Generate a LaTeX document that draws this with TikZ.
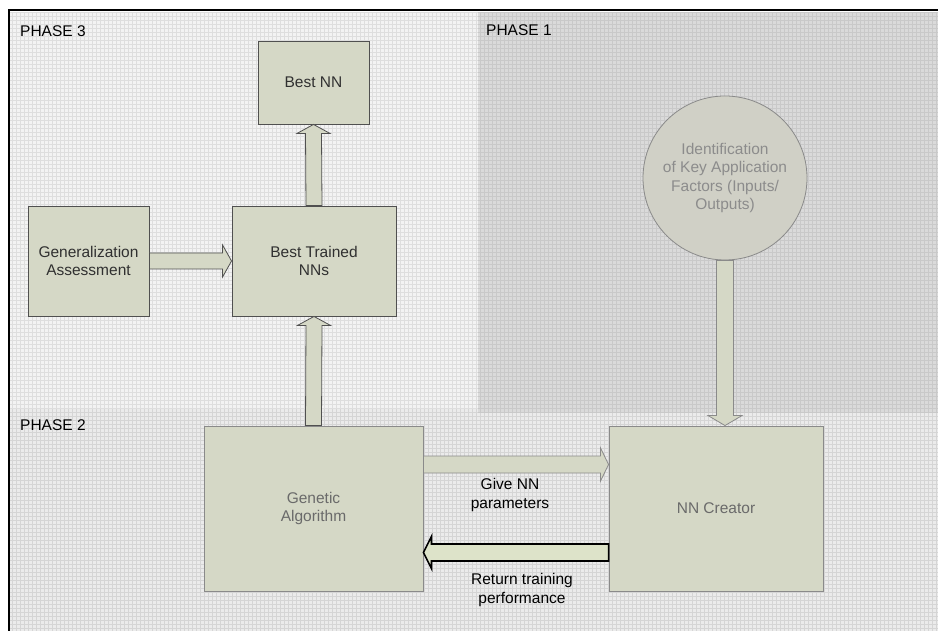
\documentclass[tikz,border=0pt]{standalone}
\usepackage{fontspec}
\setmainfont{Liberation Sans}
\usetikzlibrary{calc}
\definecolor{pthree}{HTML}{F3F3F3}
\definecolor{pthreeg}{HTML}{DEDEDE}
\definecolor{pone}{HTML}{DADADA}
\definecolor{poneg}{HTML}{C9C9C9}
\definecolor{ptwo}{HTML}{EBEBEB}
\definecolor{ptwog}{HTML}{D5D5D5}
\definecolor{boxfill}{HTML}{D5D8C6}
\definecolor{boxline}{HTML}{505050}
\definecolor{softline}{HTML}{8A8A8A}
\definecolor{circfill}{HTML}{D0D0C6}
\definecolor{retfill}{HTML}{DDE3C9}
\definecolor{txtdark}{HTML}{303030}
\definecolor{txtmid}{HTML}{6A6A6A}
\definecolor{txtlight}{HTML}{8C8C8C}
\begin{document}
\begin{tikzpicture}[x=1pt,y=-1pt,
  txt/.style={font=\fontsize{15.5}{18.4}\selectfont, align=center},
  box/.style={txt, draw=boxline, fill=boxfill, line width=0.9pt, inner sep=0pt, text=txtdark},
  softbox/.style={box, draw=softline, text=txtmid},
  barrow/.style={draw=boxline, fill=boxfill, line width=0.8pt, line join=miter},
  softarrow/.style={draw=softline, fill=boxfill, line width=0.8pt, line join=miter},
  retarrow/.style={draw=black, fill=retfill, line width=1.6pt, line join=miter},
  phase/.style={font=\fontsize{15.5}{18.4}\selectfont, anchor=west, inner sep=0pt, text=black}
]
\useasboundingbox (0,0) rectangle (938,631);
% backgrounds
\fill[white] (0,0) rectangle (938,631);
\fill[pthree] (10,12) rectangle (478,409);
\draw[pthreeg, line width=0.45pt, step=4pt] (10,12) grid (478,409);
\fill[ptwo] (10,409) rectangle (938,631);
\draw[ptwog, line width=0.45pt, step=4pt] (10,409) grid (938,631);
\fill[pone] (478,12) rectangle (938,412);
\draw[poneg, line width=0.45pt, step=4pt] (478,12) grid (938,412);
% frame
\draw[black, line width=2.5pt] (9,631) -- (9,10) -- (938,10);
% phase labels
\node[phase] (ph3) at (20,31) {PHASE 3};
\node[phase] (ph1) at (486,30) {PHASE 1};
\node[phase] (ph2) at (20,425) {PHASE 2};
% nodes
\node[box, minimum width=111pt, minimum height=83pt] (bnn) at (313.5,82.5) {Best NN};
\node[box, minimum width=164pt, minimum height=110pt] (bt) at (314,261) {Best Trained\\NNs};
\node[box, minimum width=121pt, minimum height=110pt] (gen) at (88.5,261) {Generalization\\Assessment};
\node[softbox, minimum width=219pt, minimum height=165pt] (ga) at (313.5,508.5) {Genetic\\Algorithm};
\node[softbox, minimum width=214pt, minimum height=165pt] (nnc) at (716,508.5) {NN Creator};
\node[txt, circle, draw=softline, fill=circfill, line width=0.8pt, minimum size=164pt, inner sep=0pt, text=txtlight] (circ) at (725,178) {Identification\\of Key Application\\Factors (Inputs/\\Outputs)};
% arrow: best trained -> best NN
\draw[barrow] ($(bt.north)+(-8,0)$) -- ($(bnn.south)+(-8,9)$) -- ($(bnn.south)+(-16.5,9)$) -- (bnn.south) -- ($(bnn.south)+(16.5,9)$) -- ($(bnn.south)+(8,9)$) -- ($(bt.north)+(8,0)$) -- cycle;
% arrow: GA -> best trained
\draw[barrow] ($(ga.north)+(-8,0)$) -- ($(bt.south)+(-8,9)$) -- ($(bt.south)+(-16.5,9)$) -- (bt.south) -- ($(bt.south)+(16.5,9)$) -- ($(bt.south)+(8,9)$) -- ($(ga.north)+(8,0)$) -- cycle;
% arrow: generalization -> best trained
\draw[barrow] ($(gen.east)+(0,-8)$) -- ($(bt.west)+(-9,-8)$) -- ($(bt.west)+(-9,-16)$) -- (bt.west) -- ($(bt.west)+(-9,16)$) -- ($(bt.west)+(-9,8)$) -- ($(gen.east)+(0,8)$) -- cycle;
% arrow: circle -> NN creator
\coordinate (cd) at (circ.south |- nnc.north);
\draw[softarrow] ($(circ.south)+(-8.5,0)$) -- ($(cd)+(-8.5,-10)$) -- ($(cd)+(-17,-10)$) -- (cd) -- ($(cd)+(17,-10)$) -- ($(cd)+(8.5,-10)$) -- ($(circ.south)+(8.5,0)$) -- cycle;
% arrow: GA -> NN creator
\coordinate (g1) at ($(ga.east)+(0,-44)$);
\coordinate (g2) at (g1 -| nnc.west);
\draw[softarrow] ($(g1)+(0,-8.5)$) -- ($(g2)+(-8,-8.5)$) -- ($(g2)+(-8,-16.5)$) -- (g2) -- ($(g2)+(-8,16.5)$) -- ($(g2)+(-8,8.5)$) -- ($(g1)+(0,8.5)$) -- cycle;
% arrow: NN creator -> GA
\coordinate (r1) at ($(nnc.west)+(0,44)$);
\coordinate (r2) at (r1 -| ga.east);
\draw[retarrow] ($(r1)+(0,-8.5)$) -- ($(r2)+(8,-8.5)$) -- ($(r2)+(8,-16)$) -- (r2) -- ($(r2)+(8,16)$) -- ($(r2)+(8,8.5)$) -- ($(r1)+(0,8.5)$) -- cycle;
% labels
\node[txt, text=black] (lgive) at (510,495) {Give NN\\parameters};
\node[txt, text=black] (lret) at (522,590) {Return training\\performance};
\end{tikzpicture}
\end{document}
